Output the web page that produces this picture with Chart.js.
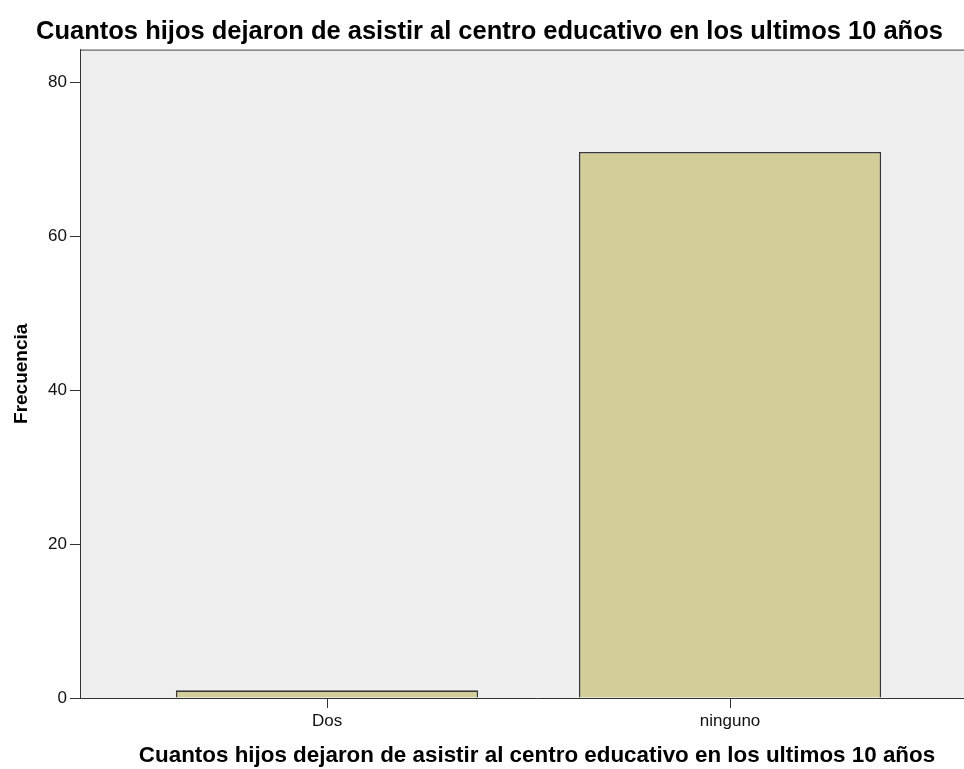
<!DOCTYPE html>
<html>
<head>
<meta charset="utf-8">
<script src="https://cdn.jsdelivr.net/npm/chart.js@4/dist/chart.umd.min.js"></script>
<style>
  html, body { margin: 0; padding: 0; background: #ffffff; overflow: hidden; }
  #wrap { width: 964px; height: 769px; overflow: hidden; }
</style>
</head>
<body>
<div id="wrap"><canvas id="c" width="994" height="769"></canvas></div>
<script>
const chartTitle = 'Cuantos hijos dejaron de asistir al centro educativo en los ultimos 10 años';
const categories = ['Dos', 'ninguno'];
const frequencies = [1, 71];
const yTickValues = [0, 20, 40, 60, 80];
const xAxisTitle = 'Cuantos hijos dejaron de asistir al centro educativo en los ultimos 10 años';
const yAxisTitle = 'Frecuencia';

const FONT = "'Liberation Sans', Arial, sans-serif";

const plotFrame = {
  id: 'plotFrame',
  beforeDraw(chart) {
    const { ctx, chartArea: a } = chart;
    ctx.save();
    ctx.fillStyle = '#efefef';
    ctx.fillRect(a.left, a.top, a.right - a.left, a.bottom - a.top);
    ctx.restore();
  },
  afterDraw(chart) {
    const { ctx, chartArea: a } = chart;
    ctx.save();
    ctx.strokeStyle = '#444444';
    ctx.lineWidth = 1;
    ctx.beginPath();
    ctx.moveTo(a.left, a.top + 0.5);
    ctx.lineTo(a.right, a.top + 0.5);
    ctx.stroke();
    ctx.restore();
  }
};

new Chart(document.getElementById('c'), {
  type: 'bar',
  data: {
    datasets: [{
      data: categories.map((c, i) => ({ x: i, y: frequencies[i] })),
      backgroundColor: '#d3ce97',
      borderColor: '#383838',
      borderWidth: 1.6,
      categoryPercentage: 1,
      barPercentage: 0.75
    }]
  },
  options: {
    responsive: false,
    animation: false,
    layout: { padding: { left: -15, right: 0, top: 0, bottom: 0 } },
    plugins: {
      legend: { display: false },
      tooltip: { enabled: false },
      title: {
        display: true,
        text: chartTitle,
        color: '#000000',
        font: { family: FONT, size: 25.5, weight: 'bold' },
        padding: { top: 17, bottom: 2 }
      }
    },
    scales: {
      x: {
        type: 'linear',
        offset: false,
        min: -0.613,
        max: 1.655,
        afterBuildTicks(scale) { scale.ticks = categories.map((c, i) => ({ value: i })); },
        afterFit(scale) { scale.height = 71; },
        ticks: {
          autoSkip: false,
          maxRotation: 0,
          minRotation: 0,
          padding: 3,
          color: '#111111',
          font: { family: FONT, size: 17 },
          callback: (v) => categories[v]
        },
        grid: { display: true, drawOnChartArea: false, tickLength: 10, color: '#333333', offset: false },
        border: { display: true, color: '#333333', width: 1 },
        title: {
          display: true,
          text: xAxisTitle,
          color: '#000000',
          font: { family: FONT, size: 22.4, weight: 'bold' },
          padding: { top: 0, bottom: 0 }
        }
      },
      y: {
        min: 0,
        max: 84.3,
        afterBuildTicks(scale) { scale.ticks = yTickValues.map(v => ({ value: v })); },
        afterFit(scale) { scale.width = 95; },
        ticks: {
          padding: 3,
          color: '#111111',
          font: { family: FONT, size: 17 }
        },
        grid: { display: true, drawOnChartArea: false, tickLength: 10, color: '#333333' },
        border: { display: true, color: '#333333', width: 1 },
        title: {
          display: true,
          text: yAxisTitle,
          color: '#000000',
          font: { family: FONT, size: 19, weight: 'bold' },
          padding: { top: 25, bottom: 0 }
        }
      }
    }
  },
  plugins: [plotFrame]
});
</script>
</body>
</html>
